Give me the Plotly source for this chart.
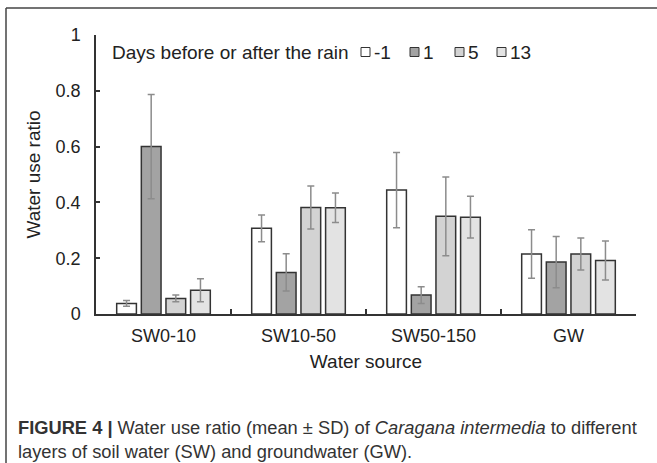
import plotly.graph_objects as go

categories = ["SW0-10", "SW10-50", "SW50-150", "GW"]
series_names = ["-1", "1", "5", "13"]
values = {
    "-1": [0.038, 0.307, 0.444, 0.215],
    "1": [0.600, 0.149, 0.068, 0.186],
    "5": [0.056, 0.382, 0.350, 0.215],
    "13": [0.085, 0.381, 0.347, 0.192],
}
sd = {
    "-1": [0.010, 0.048, 0.135, 0.087],
    "1": [0.187, 0.067, 0.030, 0.092],
    "5": [0.012, 0.077, 0.141, 0.057],
    "13": [0.041, 0.053, 0.075, 0.070],
}
colors = {"-1": "#ffffff", "1": "#a3a3a3", "5": "#d3d3d3", "13": "#e3e3e3"}
y_ticks = [0, 0.2, 0.4, 0.6, 0.8, 1]
y_tick_labels = ["0", "0.2", "0.4", "0.6", "0.8", "1"]

W, H = 657, 463
L, R, T, B = 96, 21, 35, 149
PW, PH = W - L - R, H - T - B

def px(x):
    return (x - L) / PW

def py(y):
    return (H - B - y) / PH

FONT = "Liberation Sans, Arial, sans-serif"
TXT = "#222222"

fig = go.Figure()
for s in series_names:
    fig.add_trace(go.Bar(
        x=categories, y=values[s], name=s,
        marker=dict(color=colors[s], line=dict(color="#333333", width=1.5)),
        error_y=dict(type="data", array=sd[s], color="#8c8c8c", thickness=1.5, width=3.5),
        showlegend=False,
    ))

shapes = []
annotations = []
# frame lines (left and top)
shapes.append(dict(type="line", xref="paper", yref="paper", x0=px(6), x1=px(6), y0=py(8), y1=py(H + 5),
                   line=dict(color="#444444", width=1.5)))
shapes.append(dict(type="line", xref="paper", yref="paper", x0=px(6), x1=px(W + 5), y0=py(8), y1=py(8),
                   line=dict(color="#444444", width=1.5)))

# manual legend
leg_y = 52
annotations.append(dict(text="Days before or after the rain", xref="paper", yref="paper",
                        x=px(110), y=py(leg_y), xanchor="left", yanchor="middle", showarrow=False,
                        font=dict(family=FONT, size=19, color=TXT)))
sq_x = [361, 410, 455, 497]
for s, x0 in zip(series_names, sq_x):
    shapes.append(dict(type="rect", xref="paper", yref="paper", x0=px(x0), x1=px(x0 + 9),
                       y0=py(leg_y + 4.5), y1=py(leg_y - 4.5), fillcolor=colors[s],
                       line=dict(color="#333333", width=1)))
    annotations.append(dict(text=s, xref="paper", yref="paper", x=px(x0 + 11), y=py(leg_y),
                            xanchor="left", yanchor="middle", showarrow=False,
                            font=dict(family=FONT, size=19, color=TXT)))

# caption
annotations.append(dict(
    text="<b>FIGURE 4 |</b> Water use ratio (mean ± SD) of <i>Caragana intermedia</i> to different<br>layers of soil water (SW) and groundwater (GW).",
    xref="paper", yref="paper", x=px(16), y=py(415), xanchor="left", yanchor="top", align="left",
    showarrow=False, font=dict(family=FONT, size=18.3, color="#333333")))

fig.update_layout(
    width=W, height=H,
    margin=dict(l=L, r=R, t=T, b=B, autoexpand=False),
    paper_bgcolor="white", plot_bgcolor="white",
    barmode="group", bargap=0.27, bargroupgap=0.2,
    font=dict(family=FONT, size=18, color=TXT),
    shapes=shapes, annotations=annotations,
    xaxis=dict(
        showline=True, linecolor="#333333", linewidth=1.5,
        ticks="inside", tickson="boundaries", ticklen=5, tickcolor="#333333", tickwidth=1.5,
        tickfont=dict(size=18, color=TXT), ticklabelstandoff=5,
        title=dict(text="Water source", font=dict(size=19, color=TXT), standoff=9),
        showgrid=False,
    ),
    yaxis=dict(
        range=[0, 1], tickvals=y_ticks, ticktext=y_tick_labels,
        showline=True, linecolor="#333333", linewidth=1.5,
        ticks="inside", ticklen=4, tickcolor="#333333", tickwidth=1.5,
        tickfont=dict(size=18, color=TXT), ticklabelstandoff=10,
        title=dict(text="Water use ratio", font=dict(size=19, color=TXT), standoff=10),
        showgrid=False, zeroline=False,
    ),
)

fig.write_html("out.html", config={"displayModeBar": False},
               post_script="document.body.style.margin='0';document.body.style.overflow='hidden';")
